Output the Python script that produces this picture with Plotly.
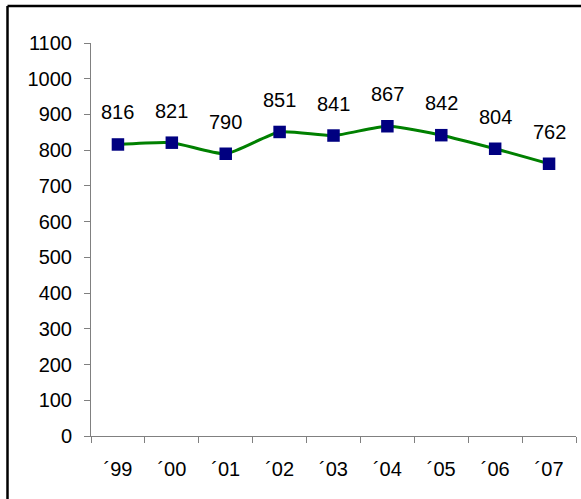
import plotly.graph_objects as go

categories = ["\u00b499", "\u00b400", "\u00b401", "\u00b402", "\u00b403", "\u00b404", "\u00b405", "\u00b406", "\u00b407"]
values = [816, 821, 790, 851, 841, 867, 842, 804, 762]
y_ticks = list(range(0, 1101, 100))

FONT = "Arial, Liberation Sans, sans-serif"

fig = go.Figure()
fig.add_trace(go.Scatter(
    x=categories, y=values, mode="lines+markers",
    line=dict(color="#008000", width=3, shape="spline", smoothing=0.6),
    marker=dict(symbol="square", size=12.5, color="#000080", line=dict(width=0)),
    hoverinfo="skip", showlegend=False,
))

for c, v in zip(categories, values):
    fig.add_annotation(x=c, y=v, text=str(v), showarrow=False, yshift=32,
                       font=dict(family=FONT, size=20, color="black"))

# outer frame (left and top edges visible)
fig.add_shape(type="line", xref="paper", yref="paper",
              x0=(7.5 - 91) / 485, x1=(7.5 - 91) / 485, y0=(436 - 6) / 393, y1=(436 - 505) / 393,
              line=dict(color="black", width=2.5))
fig.add_shape(type="line", xref="paper", yref="paper",
              x0=(7.5 - 91) / 485, x1=(590 - 91) / 485, y0=(436 - 6) / 393, y1=(436 - 6) / 393,
              line=dict(color="black", width=2.5))

fig.update_layout(
    width=581, height=499,
    margin=dict(l=91, r=5, t=43, b=63),
    paper_bgcolor="white", plot_bgcolor="white",
    font=dict(family=FONT, size=20, color="black"),
)
fig.update_xaxes(
    type="category", range=[-0.5, 8.5], showgrid=False, zeroline=False,
    showline=True, linecolor="#808080", linewidth=1,
    ticks="outside", tickson="boundaries", ticklen=6, tickcolor="#808080",
    ticklabelstandoff=15, tickfont=dict(size=20),
)
fig.update_yaxes(
    range=[0, 1100], tickvals=y_ticks, showgrid=False, zeroline=False,
    showline=True, linecolor="#808080", linewidth=1,
    ticks="outside", ticklen=6, tickcolor="#808080",
    ticklabelstandoff=8, tickfont=dict(size=20),
)

fig.write_html("out.html", config={"displayModeBar": False, "staticPlot": True},
               post_script="document.body.style.margin='0';document.body.style.overflow='hidden';")
